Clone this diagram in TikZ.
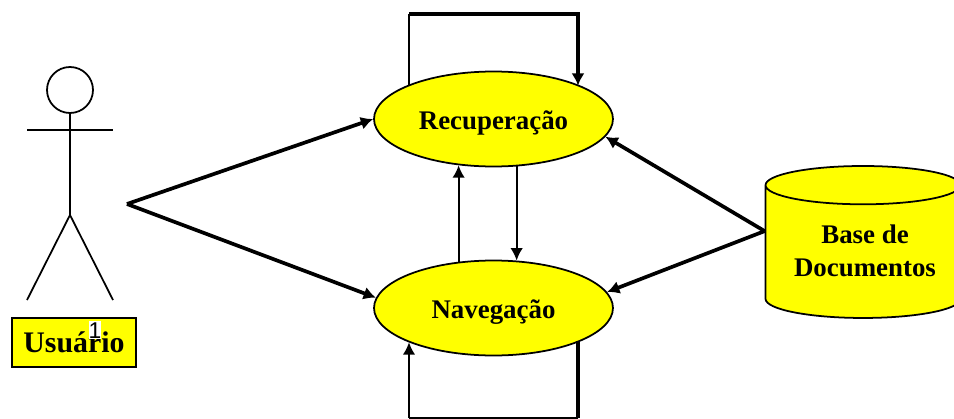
\documentclass[tikz,border=0pt]{standalone}
\usepackage{fontspec}
\setmainfont{Liberation Serif}
\newfontfamily\marksans{Liberation Sans}
\usetikzlibrary{shapes.geometric,arrows.meta}
\definecolor{caseyellow}{RGB}{255,255,0}
\tikzset{
    thinline/.style = {line width = 1pt},
    thickline/.style = {line width = 2.1pt},
    thintip/.style = {thinline, -{Latex[length = 7pt, width = 7pt]}},
    thicktip/.style = {thickline, -{Latex[length = 7pt, width = 7.5pt]}},
    boldtext/.style = {font = \fontsize{15.3}{19}\selectfont\bfseries},
    usecase/.style = {ellipse, draw, thinline, fill = caseyellow, minimum width = 4.78cm, minimum height = 1.9cm, inner sep = 0pt, boldtext, text height = 11.5pt, text depth = 0pt}
}
\begin{document}
\begin{tikzpicture}[x = 0.02cm, y = -0.02cm]
        \useasboundingbox (0, 0) rectangle (954, 419);
        % actor
        \draw[thinline] (70, 90) circle [radius = 0.46cm];
        \draw[thinline] (70, 113) -- (70, 215) -- (27, 300);
        \draw[thinline] (70, 215) -- (113, 300);
        \draw[thinline] (27, 130) -- (113, 130);
        \node (User) at (74, 342.5) [draw, thinline, fill = caseyellow, minimum width = 2.48cm, minimum height = 0.97cm, inner sep = 0pt, font = \fontsize{17}{19}\selectfont\bfseries, text height = 11pt, text depth = 0pt] {Usuário};
        \node (Page) at (95, 330) [fill = white, inner sep = 0pt, text height = 10pt, text depth = 0pt, font = \marksans\fontsize{13}{15}\selectfont] {1};
        % use cases
        \node (Rec) at (493.5, 119) [usecase] {Recuperação};
        \node (Nav) at (493.5, 308) [usecase] {Navegação};
        % document base
        \node (Base) at (863, 242) [yshift = -0.2cm, cylinder, shape border rotate = 90, aspect = 0.27, draw, thinline, fill = caseyellow, minimum width = 3.9cm, minimum height = 3.04cm, inner sep = 0pt, align = center, boldtext] {\phantom{Base de}\\\phantom{Documentos}};
        \node (BaseText) at (865, 251) [align = center, inner sep = 0pt, boldtext] {Base de\\Documentos};
        % loops
        \coordinate (TopLeft) at (409, 14);
        \coordinate (TopRight) at (578, 14);
        \coordinate (BotLeft) at (409, 418);
        \coordinate (BotRight) at (578, 418);
        \draw[thinline] (TopLeft |- Rec.158.5) -- (TopLeft);
        \draw[thicktip] (TopLeft) -- (TopRight) -- (TopRight |- Rec.21.5);
        \draw[thickline] (BotRight |- Nav.-21.5) -- (BotRight);
        \draw[thinline] (BotRight) -- (BotLeft);
        \draw[thintip] (BotLeft) -- (BotLeft |- Nav.-158.5);
        % between use cases
        \draw[thintip] (Nav.127) -- (Rec.233);
        \draw[thintip] (Rec.-64) -- (Nav.64.5);
        % from the actor
        \coordinate (Hand) at (127, 204);
        \draw[thicktip] (Hand) -- (Rec.west);
        \draw[thicktip] (Hand) -- (Nav.175);
        % from the document base
        \draw[thicktip] (Base.168.5) -- (Rec.-9.7);
        \draw[thicktip] (Base.168.5) -- (Nav.8.7);
    \end{tikzpicture}
\end{document}
